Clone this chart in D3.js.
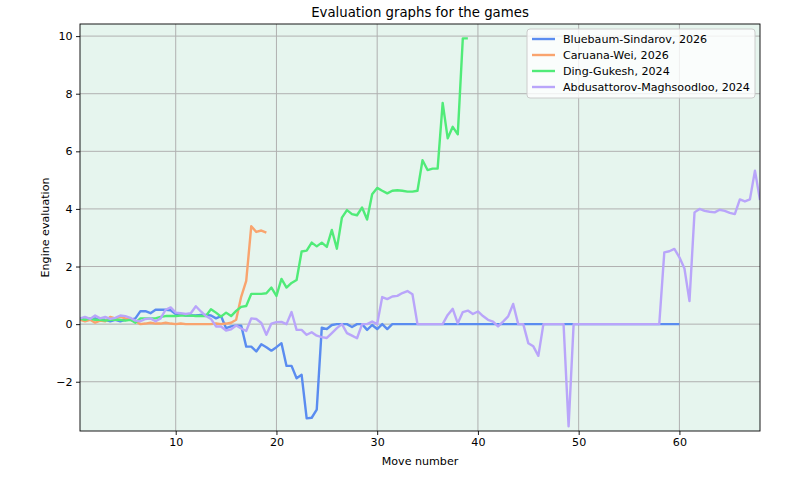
<!DOCTYPE html>
<html>
<head>
<meta charset="utf-8">
<script src="https://cdn.jsdelivr.net/npm/d3@7"></script>
<style>
  html, body { margin: 0; padding: 0; background: #ffffff; }
  svg { display: block; font-family: "DejaVu Sans", sans-serif; }
</style>
</head>
<body>
<svg id="chart" width="800" height="480"></svg>
<script>
// ---- data (x = half-move index / 2, starting at 0.5) ----
const seriesNames = [
  "Bluebaum-Sindarov, 2026",
  "Caruana-Wei, 2026",
  "Ding-Gukesh, 2024",
  "Abdusattorov-Maghsoodloo, 2024"
];
const seriesColors = ["#5a8cf0", "#f9a46e", "#50eb78", "#b9a5fa"];

const bluebaumSindarov = [
  0.2, 0.15, 0.15, 0.2, 0.15, 0.15, 0.1, 0.15, 0.1, 0.15,
  0.15, 0.2, 0.45, 0.45, 0.38, 0.5, 0.5, 0.5, 0.48, 0.35,
  0.35, 0.3, 0.3, 0.3, 0.32, 0.32, 0.3, 0.2, 0.28, -0.14,
  -0.08, -0.05, -0.05, -0.78, -0.78, -0.95, -0.7, -0.8, -0.92, -0.8,
  -0.66, -1.45, -1.45, -1.88, -1.76, -3.27, -3.25, -2.97, -0.12, -0.17,
  -0.03, 0, 0, 0, -0.1, 0, 0, -0.2, -0.03, -0.17,
  0, -0.17, 0,
  0, 0, 0, 0, 0, 0, 0, 0, 0, 0,
  0, 0, 0, 0, 0, 0, 0, 0, 0, 0,
  0, 0, 0, 0, 0, 0, 0, 0, 0, 0,
  0, 0, 0, 0, 0, 0, 0, 0, 0, 0,
  0, 0, 0, 0, 0, 0, 0, 0, 0, 0,
  0, 0, 0, 0, 0, 0, 0
];
const caruanaWei = [
  0.15, 0.1, 0.15, 0.05, 0.12, 0.1, 0.25, 0.2, 0.25, 0.2,
  0.15, 0.1, 0.0, 0.02, 0.05, 0.02, 0.02, 0.05, 0.02, 0.0,
  0.02, 0.0, 0.0, 0.0, 0.0, 0.0, 0.0, 0.02, 0.0, 0.02,
  0.05, 0.15, 0.95, 1.5, 3.4, 3.2, 3.25, 3.18
];
const dingGukesh = [
  0.2, 0.15, 0.2, 0.15, 0.15, 0.12, 0.15, 0.15, 0.15, 0.12,
  0.15, 0.05, 0.2, 0.2, 0.2, 0.2, 0.25, 0.28, 0.28, 0.28,
  0.3, 0.3, 0.3, 0.28, 0.28, 0.28, 0.52, 0.4, 0.26, 0.4,
  0.28, 0.46, 0.6, 0.63, 1.05, 1.05, 1.05, 1.07, 1.27, 0.98,
  1.57, 1.27, 1.43, 1.53, 2.52, 2.55, 2.83, 2.7, 2.83, 2.68,
  3.27, 2.62, 3.7, 3.96, 3.82, 3.78, 4.05, 3.63, 4.51, 4.73,
  4.63, 4.54, 4.63, 4.65, 4.63, 4.6, 4.6, 4.63, 5.69, 5.35,
  5.4, 5.4, 7.68, 6.45, 6.85, 6.59, 9.92, 9.92
];
const abdusattorovMaghsoodloo = [
  0.2, 0.25, 0.18, 0.3, 0.2, 0.25, 0.18, 0.22, 0.3, 0.28,
  0.22, 0.12, 0.1, 0.18, 0.2, 0.1, 0.2, 0.5, 0.58, 0.4,
  0.38, 0.35, 0.38, 0.62, 0.44, 0.28, 0.18, -0.08, -0.08, -0.22,
  -0.18, -0.05, -0.15, -0.24, 0.2, 0.18, 0.04, -0.37, 0.02, 0.07,
  0.08, 0.0, 0.42, -0.2, -0.2, -0.37, -0.28, -0.4, -0.45, -0.48,
  -0.31, -0.14, 0.0, -0.31, -0.4, -0.49, 0.0, 0.0, 0.09, 0.0,
  0.94, 0.87, 0.96, 0.98, 1.08, 1.15, 1.04, 0, 0, 0,
  0, 0, 0, 0.32, 0.53, 0.03, 0.42, 0.47, 0.35, 0.44,
  0.28, 0.15, 0.09, -0.08, 0.09, 0.27, 0.7, 0, 0, -0.66,
  -0.77, -1.1, 0, 0, 0, 0, 0, -3.55, 0,
  0, 0, 0, 0, 0, 0, 0, 0, 0, 0,
  0, 0, 0, 0, 0, 0, 0,
  2.49, 2.53, 2.61, 2.32, 1.93, 0.8, 3.88, 4.0, 3.93, 3.9,
  3.88, 3.97, 3.93, 3.86, 3.82, 4.33, 4.26, 4.33, 5.33, 4.31
];
const xTicks = [10, 20, 30, 40, 50, 60];
const yTicks = [-2, 0, 2, 4, 6, 8, 10];
const titleText = "Evaluation graphs for the games";
const xLabelText = "Move number";
const yLabelText = "Engine evaluation";

const allSeries = [bluebaumSindarov, caruanaWei, dingGukesh, abdusattorovMaghsoodloo];

// ---- layout ----
const svg = d3.select("#chart");
const plot = { left: 80, right: 760, top: 24, bottom: 431 };
const FS = 11.1;

const x = d3.scaleLinear().domain([0.5, 68]).range([plot.left, plot.right]);
const y = d3.scaleLinear().domain([-3.71, 10.42]).range([plot.bottom, plot.top]);

// background
svg.append("rect")
  .attr("x", plot.left).attr("y", plot.top)
  .attr("width", plot.right - plot.left).attr("height", plot.bottom - plot.top)
  .attr("fill", "#e6f5ee");

// grid
const grid = svg.append("g");
grid.selectAll("line.gx").data(xTicks).join("line")
  .attr("x1", d => x(d)).attr("x2", d => x(d))
  .attr("y1", plot.top).attr("y2", plot.bottom)
  .attr("stroke", "#b0b0b0").attr("stroke-width", 1);
grid.selectAll("line.gy").data(yTicks).join("line")
  .attr("x1", plot.left).attr("x2", plot.right)
  .attr("y1", d => y(d)).attr("y2", d => y(d))
  .attr("stroke", "#b0b0b0").attr("stroke-width", 1);

// lines
const clip = svg.append("clipPath").attr("id", "clip")
  .append("rect").attr("x", plot.left).attr("y", plot.top)
  .attr("width", plot.right - plot.left).attr("height", plot.bottom - plot.top);
const line = d3.line().x((d, i) => x((i + 1) * 0.5)).y(d => y(d));
svg.append("g").attr("clip-path", "url(#clip)")
  .selectAll("path").data(allSeries).join("path")
  .attr("d", d => line(d))
  .attr("fill", "none")
  .attr("stroke", (d, i) => seriesColors[i])
  .attr("stroke-width", 2.4)
  .attr("stroke-linejoin", "round")
  .attr("stroke-linecap", "butt");

// axes
const fmt = d => (d < 0 ? "\u2212" + Math.abs(d) : String(d));
const xAxis = d3.axisBottom(x).tickValues(xTicks).tickFormat(fmt).tickSizeOuter(0).tickSize(4).tickPadding(3.5);
const yAxis = d3.axisLeft(y).tickValues(yTicks).tickFormat(fmt).tickSizeOuter(0).tickSize(4).tickPadding(3.5);
const gx = svg.append("g").attr("transform", `translate(0,${plot.bottom})`).call(xAxis);
const gy = svg.append("g").attr("transform", `translate(${plot.left},0)`).call(yAxis);
[gx, gy].forEach(g => {
  g.select(".domain").remove();
  g.selectAll(".tick line").attr("stroke", "#000").attr("stroke-width", 0.9);
  g.selectAll(".tick text").attr("fill", "#000")
    .style("font-family", "DejaVu Sans").style("font-size", FS + "px");
});

// frame
svg.append("rect")
  .attr("x", plot.left).attr("y", plot.top)
  .attr("width", plot.right - plot.left).attr("height", plot.bottom - plot.top)
  .attr("fill", "none").attr("stroke", "#000").attr("stroke-width", 0.9);

// labels
svg.append("text").attr("x", (plot.left + plot.right) / 2).attr("y", 17)
  .attr("text-anchor", "middle").style("font-size", "13.3px").text(titleText);
svg.append("text").attr("x", (plot.left + plot.right) / 2).attr("y", 465)
  .attr("text-anchor", "middle").style("font-size", FS + "px").text(xLabelText);
svg.append("text")
  .attr("transform", `translate(49,${(plot.top + plot.bottom) / 2}) rotate(-90)`)
  .attr("text-anchor", "middle").style("font-size", FS + "px").text(yLabelText);

// legend
const lg = svg.append("g");
lg.append("rect").attr("x", 527).attr("y", 29).attr("width", 228).attr("height", 69)
  .attr("rx", 3).attr("fill", "#ffffff").attr("fill-opacity", 0.8)
  .attr("stroke", "#cccccc").attr("stroke-width", 1);
const items = lg.selectAll("g.item").data(seriesNames).join("g")
  .attr("transform", (d, i) => `translate(0,${39 + i * 16})`);
items.append("line").attr("x1", 532).attr("x2", 555).attr("y1", 0).attr("y2", 0)
  .attr("stroke", (d, i) => seriesColors[i]).attr("stroke-width", 2.4);
items.append("text").attr("x", 563).attr("y", 0).attr("dy", "0.35em")
  .style("font-size", FS + "px").text(d => d);
</script>
</body>
</html>
